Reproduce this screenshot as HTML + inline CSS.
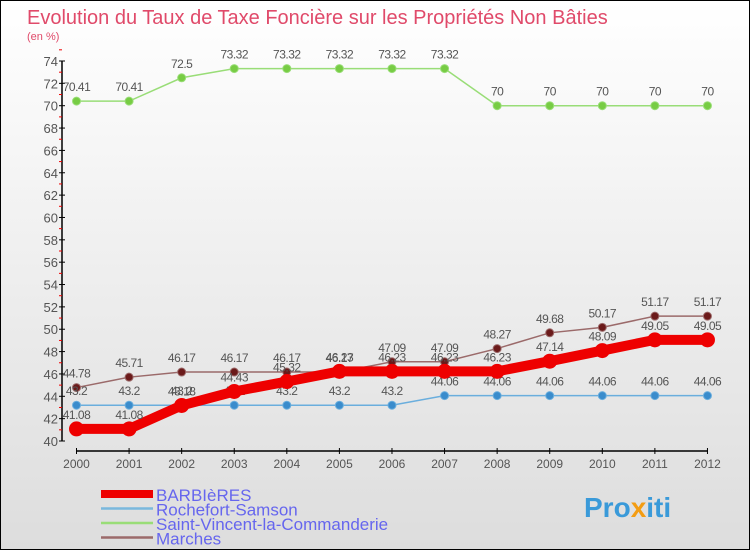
<!DOCTYPE html>
<html><head><meta charset="utf-8"><style>
body{margin:0}
#c{width:750px;height:550px;position:relative;box-sizing:border-box;border:1px solid #000;background:linear-gradient(#fff,#ddd);font-family:"Liberation Sans","DejaVu Sans",sans-serif;overflow:hidden}
</style></head><body>
<div id="c">
<svg id="s" width="750" height="550" style="position:absolute;left:0;top:0">
<text x="26" y="23" font-size="20" fill="#e04a6a">Evolution du Taux de Taxe Foncière sur les Propriétés Non Bâties</text>
<text x="26" y="39" font-size="11" fill="#e04a6a">(en %)</text>
<text x="583" y="516" font-size="28" font-weight="bold" fill="#3a9ad9">Pro<tspan fill="#f39c12">x</tspan>iti</text>
</svg>
</div>
<script>
const years=[2000,2001,2002,2003,2004,2005,2006,2007,2008,2009,2010,2011,2012];
const barbieres=[41.08,41.08,43.18,44.43,45.32,46.23,46.23,46.23,46.23,47.14,48.09,49.05,49.05];
const rochefort=[43.2,43.2,43.2,43.2,43.2,43.2,43.2,44.06,44.06,44.06,44.06,44.06,44.06];
const saintVincent=[70.41,70.41,72.5,73.32,73.32,73.32,73.32,73.32,70,70,70,70,70];
const marches=[44.78,45.71,46.17,46.17,46.17,46.17,47.09,47.09,48.27,49.68,50.17,51.17,51.17];
const yTicks=[40,42,44,46,48,50,52,54,56,58,60,62,64,66,68,70,72,74];
const seriesNames=["BARBIèRES","Rochefort-Samson","Saint-Vincent-la-Commanderie","Marches"];
const s=document.getElementById('s');const NS="http://www.w3.org/2000/svg";
const X=i=>75.5+i*52.58;const Y=v=>440-(v-40)*(380/34);
function mk(t,a,p){const e=document.createElementNS(NS,t);for(const k in a)e.setAttribute(k,a[k]);(p||s).appendChild(e);return e;}
let ya=mk('line',{x1:61,y1:60,x2:61,y2:440,stroke:'#000','stroke-width':1.5});


yTicks.forEach(v=>{mk('line',{x1:58,x2:64,y1:Y(v),y2:Y(v),stroke:'#000'});
mk('line',{x1:58,x2:61,y1:Y(v+1),y2:Y(v+1),stroke:'#e00'});
let t=mk('text',{x:57,y:Y(v)+5,'text-anchor':'end','font-size':13,fill:'#555'});t.textContent=v;

});
let xa=mk('line',{x1:75,y1:450,x2:707,y2:450,stroke:'#000','stroke-width':1.5});


years.forEach((y,i)=>{mk('line',{x1:X(i),x2:X(i),y1:447,y2:453,stroke:'#000'});
let t=mk('text',{x:X(i),y:467,'text-anchor':'middle','font-size':12,fill:'#555'});t.textContent=y;

});
function series(d,col,lw,r,pf,name){
const g=mk('g',{});
mk('polyline',{points:d.map((v,i)=>X(i)+','+Y(v)).join(' '),fill:'none',stroke:col,'stroke-width':lw},g);
d.forEach((v,i)=>{let c=mk('circle',{cx:X(i),cy:Y(v),r:r,fill:pf,stroke:col,'stroke-width':1},g);


let t=mk('text',{x:X(i),y:Y(v)-10,'text-anchor':'middle','font-size':12,fill:'#555','letter-spacing':'-0.5'},g);t.textContent=v;

});}
series(saintVincent,'#99dd77',1.5,4,'#77cc44','series-saint-vincent');
series(marches,'#9b6a6a',1.5,4,'#6b1a1a','series-marches');
series(rochefort,'#6aaedd',1.5,4,'#3a8ccc','series-rochefort');
series(barbieres,'#ee0000',10,7,'#ee0000','series-barbieres');
const lc=['#ee0000','#7ab8dd','#99dd77','#9b6a6a'],lw=[8,2.5,2.5,2.5];
seriesNames.forEach((n,i)=>{const y=493+i*14.5;
const g=mk('g',{});
mk('line',{x1:100,x2:152,y1:y,y2:y,stroke:lc[i],'stroke-width':lw[i]},g);
let t=mk('text',{x:155,y:y+7,'font-size':17,fill:'#6666ee'},g);t.textContent=n;});
</script>
</body></html>
